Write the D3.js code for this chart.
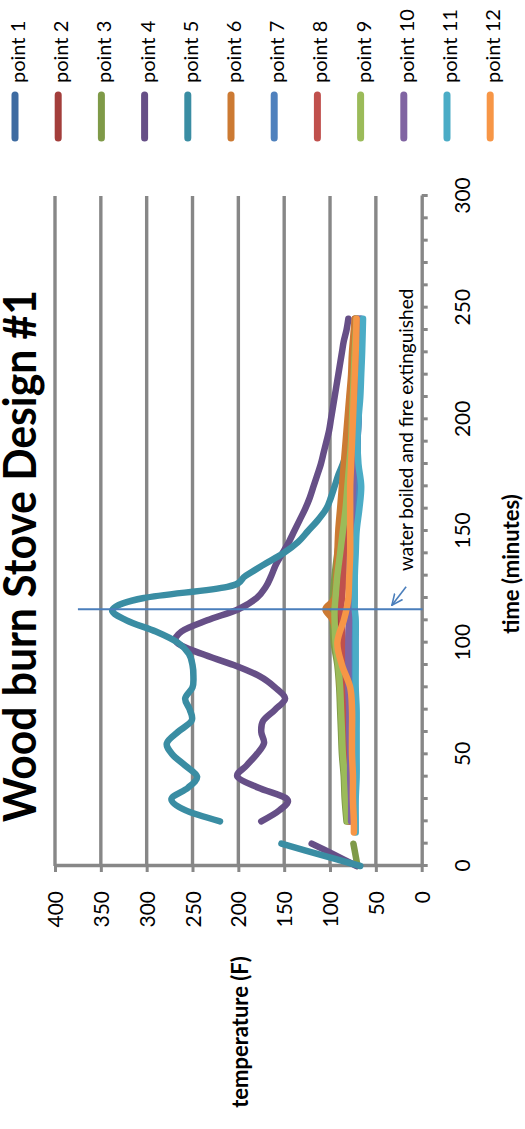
<!DOCTYPE html>
<html>
<head>
<meta charset="utf-8">
<script src="https://d3js.org/d3.v7.min.js"></script>
<style>
  body { margin: 0; background: #fff; }
  svg { display: block; font-family: Lato, "Open Sans", sans-serif; }
</style>
</head>
<body>
<svg width="525" height="1129"></svg>
<script>
// --- data ---
var seriesNames = ["point 1", "point 2", "point 3", "point 4", "point 5", "point 6",
                   "point 7", "point 8", "point 9", "point 10", "point 11", "point 12"];
var seriesColors = ["#3E6BA1", "#A33E3B", "#7F9A48", "#664F87", "#3A8DA3", "#CC7A33",
                    "#4F81BD", "#C0504D", "#9BBB59", "#8064A2", "#4BACC6", "#F79646"];

// points 4 and 5 were logged every 5 minutes
var minutes = [0, 5, 10, 15, 20, 25, 30, 35, 40, 45, 50, 55, 60, 65, 70, 75, 80, 85, 90, 95,
               100, 105, 110, 115, 120, 125, 130, 135, 140, 145, 150, 155, 160, 165, 170, 175,
               180, 185, 190, 195, 200, 205, 210, 215, 220, 225, 230, 235, 240, 245];
var point4 = [71, 95, 120, null, 175, 155, 147, 178, 201, 191, 180, 172, 175, 173, 160, 149, 160, 177, 205, 240,
              267, 262, 234, 200, 180, 170, 164, 159, 152, 145, 139, 133, 127, 122, 118, 114,
              110, 107, 104, 101, 99, 97, 95, 93, 91, 89, 87, 85, 82, 80];
var point5 = [67, 110, 153, null, 220, 258, 273, 255, 245, 258, 272, 278, 266, 251, 253, 258, 250, 249, 250, 254,
              266, 290, 322, 337, 303, 212, 192, 172, 151, 135, 124, 113, 104, 99, 95, 91,
              86, 82, 79, 77, 76, 75, 75, 74, 74, 73, 73, 72, 72, 71];

// the other probes
var clusterMinutes = [0, 10, 15, 20, 30, 40, 50, 60, 70, 80, 90, 100, 110, 115, 120,
                      130, 140, 150, 160, 170, 180, 190, 200, 210, 220, 230, 245];
var point1  = [null, null, null, 79, 80, 81, 82, 83, 84, 85, 86, 87, 88, 89, 88, 86, 82, 77, 73, 71, 70, 70, 69, 69, 68, 68, 67];
var point2  = [null, null, null, 80, 82, 83, 85, 86, 87, 88, 89, 90, 92, 94, 92, 90, 88, 85, 83, 81, 79, 78, 77, 76, 75, 74, 73];
var point3  = [70, 74.5, null, 82, 84, 85, 87, 88, 89, 90, 92, 96, 97, 97, 97, 95, 92, 88, 85, 82, 80, 78, 77, 76, 75, 74, 72];
var point6  = [null, null, null, 80, 81, 82, 83, 85, 87, 89, 90, 92, 97, 105, 95, 93, 92, 91, 89, 87, 85, 83, 81, 79, 77, 76, 73];
var point7  = [null, null, null, 75, 75, 75, 76, 76, 76, 77, 77, 78, 78, 78, 78, 77, 76, 75, 73, 71, 70, 70, 69, 69, 68, 67, 66];
var point8  = [null, null, null, 78, 79, 80, 81, 82, 83, 84, 85, 86, 87, 88, 87, 85, 83, 81, 79, 77, 76, 75, 74, 73, 72, 71, 70];
var point9  = [null, null, null, 81, 83, 84, 86, 87, 88, 89, 91, 94, 95, 95, 94, 92, 89, 86, 83, 81, 79, 77, 76, 75, 74, 73, 71];
var point10 = [null, null, null, 77, 77, 78, 78, 79, 79, 80, 80, 80, 79, 78, 79, 79, 78, 77, 76, 75, 74, 73, 73, 72, 71, 70, 69];
var point11 = [null, null, 72, 72, 72, 71, 71, 71, 71, 72, 72, 72, 72, 73, 73, 73, 72, 71, 68, 66, 69, 70, 69, 67, 66, 65, 64];
var point12 = [null, null, 74, 74, 75, 75, 76, 76, 76, 78, 87, 92, 85, 82, 80, 79, 78, 78, 78, 78, 77, 76, 75, 74, 73, 72, 71];

var timeTicks = [0, 10, 20, 30, 40, 50, 60, 70, 80, 90, 100, 110, 120, 130, 140, 150,
                 160, 170, 180, 190, 200, 210, 220, 230, 240, 250, 260, 270, 280, 290, 300];
var tempTicks = [0, 50, 100, 150, 200, 250, 300, 350, 400];

var boilTime = 115;
var boilNote = "water boiled and fire extinguished";

var series = [point1, point2, point3, point4, point5, point6,
              point7, point8, point9, point10, point11, point12].map(function(vals, i) {
  var times = (i == 3 || i == 4) ? minutes : clusterMinutes;
  return {
    name: seriesNames[i],
    color: seriesColors[i],
    values: vals.map(function(v, j) { return {time: times[j], temp: v}; })
  };
});

// --- chart ---
// laid out as a landscape chart (1129 x 525), then turned a quarter turn onto the tall page
var svg = d3.select("svg"),
    W = 1129,
    grid = "#878787",
    g = svg.append("g").attr("transform", "translate(0," + W + ") rotate(-90)");

var x = d3.scaleLinear().domain([0, 300]).range([263, 933]);
var y = d3.scaleLinear().domain([0, 400]).range([421.7, 55]);

// gridlines
g.append("g").selectAll("line")
    .data(tempTicks.slice(1))
  .enter().append("line")
    .attr("x1", x(0))
    .attr("x2", x(300))
    .attr("y1", function(d) { return y(d); })
    .attr("y2", function(d) { return y(d); })
    .attr("stroke", grid)
    .attr("stroke-width", 3.4);

var xAxis = g.append("g")
    .attr("transform", "translate(0," + y(0) + ")")
    .call(d3.axisBottom(x).tickValues(timeTicks).tickSize(6).tickSizeOuter(0)
      .tickFormat(function(d) { return d % 50 ? "" : d; }));

var yAxis = g.append("g")
    .attr("transform", "translate(" + x(0) + ",0)")
    .call(d3.axisLeft(y).tickValues(tempTicks).tickSize(6).tickSizeOuter(0));

[xAxis, yAxis].forEach(function(a) {
  a.select(".domain").attr("stroke", grid).attr("stroke-width", 3.4);
  a.selectAll(".tick line").attr("stroke", grid).attr("stroke-width", 3);
  a.selectAll(".tick text").attr("font-size", 21).attr("fill", "#000")
    .attr("font-family", "Lato, 'Open Sans', sans-serif");
});
xAxis.selectAll(".tick text").attr("y", 48.5).attr("dy", null);
yAxis.selectAll(".tick text").attr("x", -25).attr("dy", "0.36em");

// series lines
var line = d3.line()
    .defined(function(d) { return d.temp != null; })
    .x(function(d) { return x(d.time); })
    .y(function(d) { return y(d.temp); })
    .curve(d3.curveCardinal.tension(0));

g.append("g").selectAll("path")
    .data(series)
  .enter().append("path")
    .attr("d", function(d) { return line(d.values); })
    .attr("fill", "none")
    .attr("stroke", function(d) { return d.color; })
    .attr("stroke-width", 6.5)
    .attr("stroke-linejoin", "round")
    .attr("stroke-linecap", "round");

// boiling marker + note
var noteBlue = "#4A7EBB";
g.append("defs").append("marker")
    .attr("id", "arrow")
    .attr("viewBox", "0 -6 12 12")
    .attr("refX", 11)
    .attr("refY", 0)
    .attr("markerWidth", 12)
    .attr("markerHeight", 12)
    .attr("markerUnits", "userSpaceOnUse")
    .attr("orient", "auto")
  .append("path")
    .attr("d", "M0,-5L11,0L0,5")
    .attr("fill", "none")
    .attr("stroke", noteBlue)
    .attr("stroke-width", 1.6);

g.append("line")
    .attr("x1", x(boilTime)).attr("x2", x(boilTime))
    .attr("y1", y(375)).attr("y2", y(-1))
    .attr("stroke", noteBlue)
    .attr("stroke-width", 2);

g.append("line")
    .attr("x1", x(125)).attr("y1", y(17))
    .attr("x2", x(116.8)).attr("y2", y(32.5))
    .attr("stroke", noteBlue)
    .attr("stroke-width", 1.6)
    .attr("marker-end", "url(#arrow)");

g.append("text")
    .attr("x", x(132.1))
    .attr("y", y(9.5))
    .attr("font-size", 19)
    .text(boilNote);

// titles (the chart title runs off the top edge, as in the source)
g.append("text")
    .attr("x", 573)
    .attr("y", 36)
    .attr("text-anchor", "middle")
    .attr("font-size", 46)
    .attr("font-weight", "bold")
    .attr("textLength", 532)
    .attr("lengthAdjust", "spacingAndGlyphs")
    .text("Wood burn Stove Design #1");

g.append("text")
    .attr("x", 97)
    .attr("y", 248)
    .attr("text-anchor", "middle")
    .attr("font-size", 22)
    .attr("font-weight", "bold")
    .text("temperature (F)");

g.append("text")
    .attr("x", 565)
    .attr("y", 519)
    .attr("text-anchor", "middle")
    .attr("font-size", 22)
    .attr("font-weight", "bold")
    .text("time (minutes)");

// legend (right of the landscape chart)
var legend = g.append("g").selectAll("g")
    .data(series)
  .enter().append("g")
    .attr("transform", function(d, i) { return "translate(0," + (15 + i * 43.2) + ")"; });

legend.append("line")
    .attr("x1", 991)
    .attr("x2", 1034)
    .attr("stroke", function(d) { return d.color; })
    .attr("stroke-width", 7)
    .attr("stroke-linecap", "round");

legend.append("text")
    .attr("x", 1046)
    .attr("y", 10)
    .attr("font-size", 20)
    .text(function(d) { return d.name; });
</script>
</body>
</html>
